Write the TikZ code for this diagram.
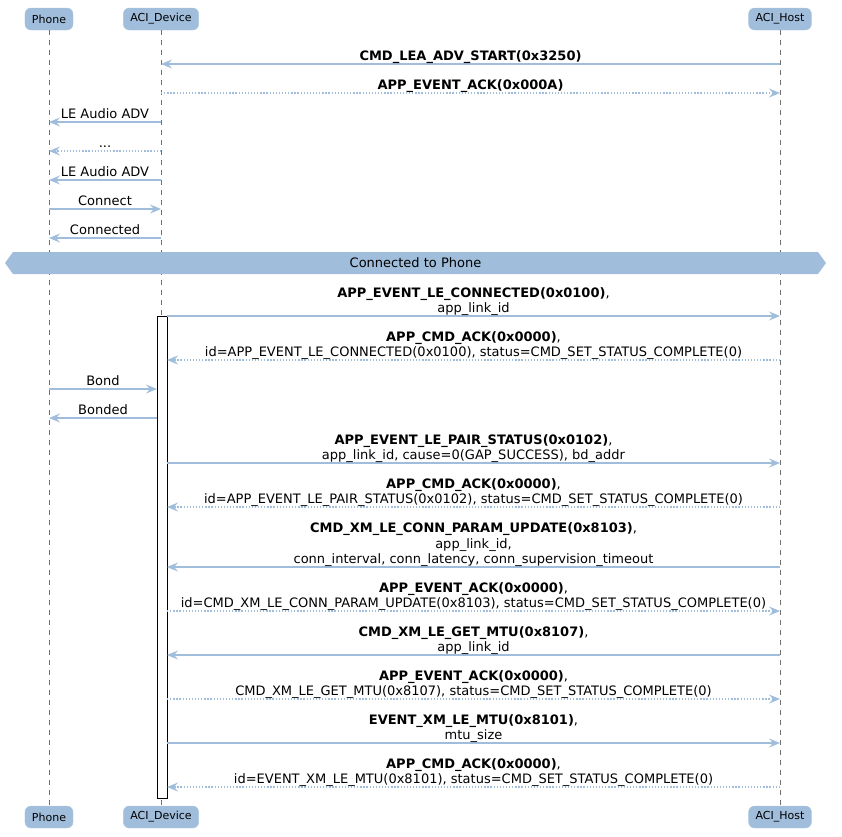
\documentclass[tikz,border=0pt]{standalone}
\usepackage{fontspec}
\setmainfont{DejaVu Sans}
\usetikzlibrary{arrows.meta,positioning}

\definecolor{umlblue}{HTML}{A0BEDB}
\definecolor{lifegray}{HTML}{707070}

\tikzset{
    actor/.style={fill=umlblue, draw=umlblue!85!white, rounded corners=6pt,
        minimum height=22pt, inner xsep=7pt, font=\fontsize{11}{13}\selectfont},
    lifeline/.style={lifegray, line width=0.8pt, dash pattern=on 5pt off 5pt},
    msg/.style={draw=umlblue, line width=1.4pt, -{Stealth[length=11pt,width=9pt,inset=4pt]}},
    reply/.style={msg, dash pattern=on 1.3pt off 1.8pt},
    lbl/.style={font=\fontsize{13}{15.5}\selectfont, align=center, inner sep=0pt,
        text depth=3pt, anchor=south, midway, yshift=-0.5pt},
}

\begin{document}
\begin{tikzpicture}[x=1pt, y=-1pt]

    \useasboundingbox (0,0) rectangle (842,836);

    % Participants
    \node[actor] (phone) at (49,19) {Phone};
    \node[actor] (dev) at (161,19) {ACI\_Device};
    \node[actor] (host) at (780,19) {ACI\_Host};
    \node[actor] (phone-end) at (49,817) {Phone};
    \node[actor] (dev-end) at (161,817) {ACI\_Device};
    \node[actor] (host-end) at (780,817) {ACI\_Host};

    % Lifelines
    \foreach \a in {phone,dev,host}
        \draw[lifeline] (\a.south) -- (\a-end.north);

    % Points on the lifelines, one row per message
    \foreach \n/\y in {1/64, 2/93, 3/122, 4/151, 5/180, 6/209, 7/238, 8/316, 9/360,
                       10/389, 11/418, 12/463, 13/507, 14/567, 15/611, 16/655, 17/699,
                       18/743, 19/787}
        {
            \coordinate (p\n) at (49,\y);
            \coordinate (d\n) at (161,\y);
            \coordinate (dL\n) at (157,\y);
            \coordinate (dR\n) at (167,\y);
            \coordinate (h\n) at (780,\y);
        }

    % Activation of ACI_Device
    \draw[fill=white, line width=0.8pt] (157,316) rectangle (167,798);

    % Advertising
    \draw[msg] (h1) -- (d1) node[lbl] {\textbf{CMD\_LEA\_ADV\_START(0x3250)}};
    \draw[reply] (d2) -- (h2) node[lbl] {\textbf{APP\_EVENT\_ACK(0x000A)}};
    \draw[msg] (d3) -- (p3) node[lbl] {LE Audio ADV};
    \draw[reply] (d4) -- (p4) node[lbl] {...};
    \draw[msg] (d5) -- (p5) node[lbl] {LE Audio ADV};
    \draw[msg] (p6) -- (d6) node[lbl] {Connect};
    \draw[msg] (d7) -- (p7) node[lbl] {Connected};

    % Divider
    \fill[umlblue] (5,263) -- (13,252) -- (818,252) -- (826,263) -- (818,274) -- (13,274) -- cycle;
    \node[font=\fontsize{13}{15.5}\selectfont] (sep) at (415.5,263) {Connected to Phone};

    % Connected
    \draw[msg] (dR8) -- (h8) node[lbl] {\textbf{APP\_EVENT\_LE\_CONNECTED(0x0100)},\\app\_link\_id};
    \draw[reply] (h9) -- (dR9) node[lbl] {\textbf{APP\_CMD\_ACK(0x0000)},\\id=APP\_EVENT\_LE\_CONNECTED(0x0100), status=CMD\_SET\_STATUS\_COMPLETE(0)};
    \draw[msg] (p10) -- (dL10) node[lbl] {Bond};
    \draw[msg] (dL11) -- (p11) node[lbl] {Bonded};
    \draw[msg] (dR12) -- (h12) node[lbl] {\textbf{APP\_EVENT\_LE\_PAIR\_STATUS(0x0102)},\\app\_link\_id, cause=0(GAP\_SUCCESS), bd\_addr};
    \draw[reply] (h13) -- (dR13) node[lbl] {\textbf{APP\_CMD\_ACK(0x0000)},\\id=APP\_EVENT\_LE\_PAIR\_STATUS(0x0102), status=CMD\_SET\_STATUS\_COMPLETE(0)};

    % Connection parameters and MTU
    \draw[msg] (h14) -- (dR14) node[lbl] {\textbf{CMD\_XM\_LE\_CONN\_PARAM\_UPDATE(0x8103)},\\app\_link\_id,\\conn\_interval, conn\_latency, conn\_supervision\_timeout};
    \draw[reply] (dR15) -- (h15) node[lbl] {\textbf{APP\_EVENT\_ACK(0x0000)},\\id=CMD\_XM\_LE\_CONN\_PARAM\_UPDATE(0x8103), status=CMD\_SET\_STATUS\_COMPLETE(0)};
    \draw[msg] (h16) -- (dR16) node[lbl] {\textbf{CMD\_XM\_LE\_GET\_MTU(0x8107)},\\app\_link\_id};
    \draw[reply] (dR17) -- (h17) node[lbl] {\textbf{APP\_EVENT\_ACK(0x0000)},\\CMD\_XM\_LE\_GET\_MTU(0x8107), status=CMD\_SET\_STATUS\_COMPLETE(0)};
    \draw[msg] (dR18) -- (h18) node[lbl] {\textbf{EVENT\_XM\_LE\_MTU(0x8101)},\\mtu\_size};
    \draw[reply] (h19) -- (dR19) node[lbl] {\textbf{APP\_CMD\_ACK(0x0000)},\\id=EVENT\_XM\_LE\_MTU(0x8101), status=CMD\_SET\_STATUS\_COMPLETE(0)};

\end{tikzpicture}
\end{document}
